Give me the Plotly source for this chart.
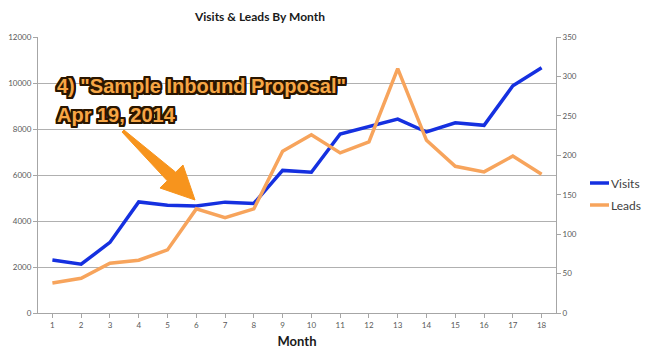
import plotly.graph_objects as go

months = list(range(1, 19))
visits = [2300, 2120, 3070, 4830, 4690, 4650, 4820, 4760, 6200, 6120, 7780, 8100, 8430, 7870, 8270, 8160, 9880, 10660]
leads = [38, 44, 63, 67, 80, 132, 121, 132, 205, 226, 203, 217, 310, 219, 186, 179, 199, 176]
series_names = ["Visits", "Leads"]
series_colors = ["#1530E0", "#F7A45C"]
title_text = "Visits & Leads By Month"
x_title = "Month"
note_lines = ["4) \"Sample Inbound Proposal\"", "Apr 19, 2014"]

OFF = 8  # default page body margin
PW, PH = 650, 358
W, H = PW - OFF, PH - OFF
L, R, T, B = 38, 556, 37, 313  # plot area in page pixels

def px(x):
    return (x - L) / (R - L)

def py(y):
    return (B - y) / (B - T)

fig = go.Figure()
fig.add_trace(go.Scatter(x=months, y=visits, name=series_names[0], mode="lines",
                         line=dict(color=series_colors[0], width=3.5), yaxis="y"))
fig.add_trace(go.Scatter(x=months, y=leads, name=series_names[1], mode="lines",
                         line=dict(color=series_colors[1], width=3.5), yaxis="y2"))

tickfont = dict(family="Lato, Open Sans, sans-serif", size=8, color="#595959")
fig.update_layout(
    width=W, height=H,
    margin=dict(l=L - OFF, r=PW - R, t=T - OFF, b=PH - B, autoexpand=False),
    paper_bgcolor="white", plot_bgcolor="white",
    showlegend=False,
    title=dict(text=title_text, x=(260 - OFF) / W, xanchor="center", y=1 - (17 - OFF) / H, yanchor="middle",
               font=dict(family="Lato, sans-serif", size=12, color="#1a1a1a", weight="bold")),
    xaxis=dict(range=[0.5, 18.5], tickmode="array", tickvals=months, ticktext=[str(m) for m in months],
               showgrid=False, showline=True, linecolor="#a6a6a6", linewidth=1,
               ticks="outside", ticklen=4, tickcolor="#a6a6a6", tickson="boundaries",
               tickfont=tickfont, zeroline=False, automargin=False,
               title=dict(text=x_title, font=dict(family="Lato, sans-serif", size=13, color="#1a1a1a", weight="bold"), standoff=8)),
    yaxis=dict(range=[0, 12000], dtick=2000, tickformat="d", showgrid=True, gridcolor="#b0b0b0", gridwidth=1,
               showline=True, linecolor="#a6a6a6", ticks="outside", ticklen=4, tickcolor="#a6a6a6",
               tickfont=tickfont, zeroline=False, automargin=False),
    yaxis2=dict(range=[0, 350], dtick=50, overlaying="y", side="right", showgrid=False,
                showline=True, linecolor="#a6a6a6", ticks="outside", ticklen=4, tickcolor="#a6a6a6",
                tickfont=tickfont, zeroline=False, automargin=False),
)

# manual legend
leg_items = [(183, series_names[0], series_colors[0]), (205, series_names[1], series_colors[1])]
for yy, name, col in leg_items:
    fig.add_shape(type="line", xref="paper", yref="paper", x0=px(590), x1=px(609), y0=py(yy), y1=py(yy),
                  line=dict(color=col, width=3.5))
    fig.add_annotation(xref="paper", yref="paper", x=px(609), y=py(yy), text=name, showarrow=False,
                       xanchor="left", yanchor="middle",
                       font=dict(family="Lato, sans-serif", size=12, color="#404040"))

# arrow
pts = [(124, 130), (175.7, 172.2), (183, 165), (195, 200), (160, 188), (167.3, 180.8), (122, 132)]
path = "M " + " L ".join(f"{px(a):.5f},{py(b):.5f}" for a, b in pts) + " Z"
fig.add_shape(type="path", xref="paper", yref="paper", path=path,
              fillcolor="#F7941D", line=dict(color="#F7941D", width=1))

outline = ",".join(f"{dx}px {dy}px 0 #2a1600" for dx in (-2, -1, 0, 1, 2) for dy in (-2, -1, 0, 1, 2) if (dx, dy) != (0, 0))
for line_text, yy in zip(note_lines, (86, 115)):
    fig.add_annotation(xref="paper", yref="paper", x=px(55), y=py(yy), text=line_text,
                       showarrow=False, xanchor="left", yanchor="middle", align="left",
                       font=dict(family="Liberation Sans, Arial, sans-serif", size=20, color="#F7A645",
                                 weight="bold", shadow=outline))

fig.write_html("out.html")
